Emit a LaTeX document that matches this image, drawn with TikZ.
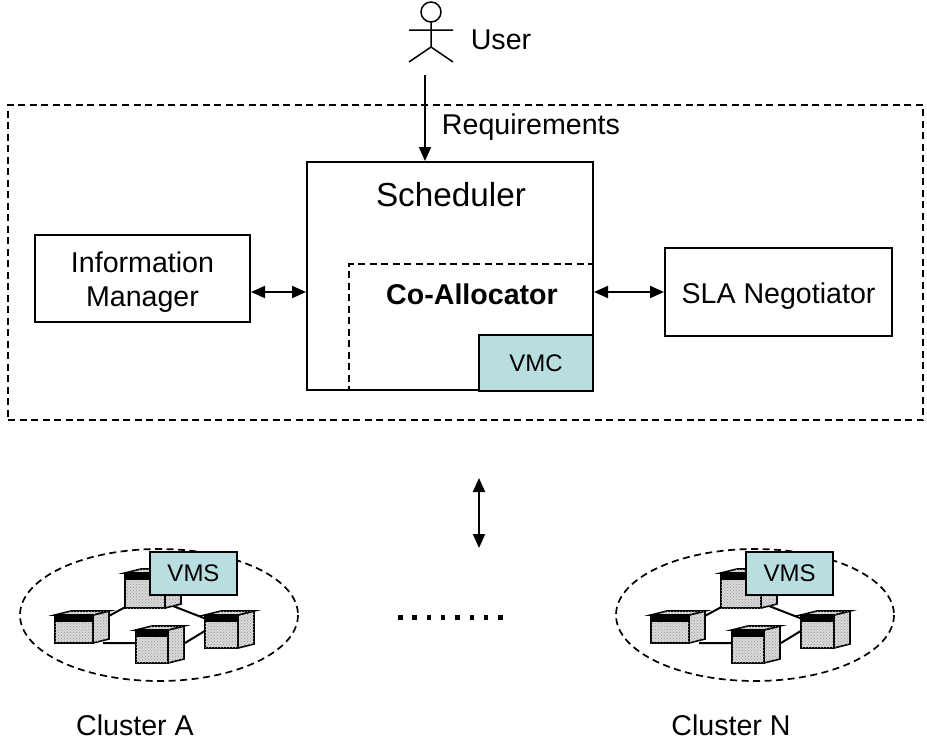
\documentclass[tikz,border=0pt]{standalone}
\usepackage{fontspec}
\setmainfont{Liberation Sans}
\usetikzlibrary{arrows.meta,patterns}

\definecolor{vmteal}{RGB}{184,222,224}
\newcommand{\labelfont}{\fontsize{28.6}{34}\selectfont}
\newcommand{\titlefont}{\fontsize{33.3}{40}\selectfont}
\newcommand{\vmfont}{\fontsize{24}{29}\selectfont}

\begin{document}
\begin{tikzpicture}[x=1pt,y=-1pt,>={Triangle[length=14pt,width=12pt]},
  box/.style={draw,line width=2pt,inner sep=0pt,align=center,font=\labelfont},
  vmbox/.style={box,fill=vmteal,font=\vmfont},
  boxtext/.style={label={[font=\labelfont,align=center,yshift=-4pt]center:#1}},
  link/.style={line width=2pt},
  dashbox/.style={draw,line width=1.7pt,dash pattern=on 7pt off 4.5pt},
  rack/.style={draw,line width=1.6pt,fill=gray!30,
    postaction={pattern=crosshatch dots,pattern color=gray!80}},
  % one server (front width #1, height #2): side, top, front and its dark panel
  pics/server/.style 2 args={code={
    \path[rack] (#1,0) -- (#1+16,-4) -- (#1+16,#2-4) -- (#1,#2) -- cycle;
    \path[rack] (0,0) -- (16,-4) -- (#1+16,-4) -- (#1,0) -- cycle;
    \path[rack] (0,0) rectangle (#1,#2);
    \fill (0,0) rectangle (#1,7);
  }},
  % a cluster of four servers with its VM service
  pics/cluster/.style={code={
    \draw[dashbox] (0,0) ellipse [x radius=139,y radius=66];
    \draw[link] (-52,2) -- (-30,-10)
                (14,-9) -- (50,5)
                (-56,28) -- (-21,28)
                (26,28) -- (49,14);
    \pic at (-34,-42) {server={40}{35}};
    \pic at (-104,0) {server={38}{28}};
    \pic at (-23,15) {server={32}{33}};
    \pic at (46,0) {server={33}{33}};
    \node[vmbox,minimum width=87pt,minimum height=43pt] (-vms) at (34.5,-41.5) {VMS};
    \node[font=\labelfont] (-name) at (-24,110) {#1};
  }}]
  \useasboundingbox (0,0) rectangle (927,742);

  % user on top
  \draw[line width=1.5pt] (431,12) circle [radius=10]
    (431,22) -- (431,47) (409,30) -- (453,30)
    (409,62) -- (431,47) -- (453,62);
  \node[font=\labelfont] (user) at (501,40) {User};
  \coordinate (userfoot) at (425,75);

  % broker
  \node[dashbox,minimum width=915pt,minimum height=315pt] (broker) at (465.5,262.5) {};
  \node[font=\labelfont] (req) at (531,127) {Requirements};

  \node[box,minimum width=215pt,minimum height=87pt,
    boxtext={Information\\Manager}] (info) at (142.5,278.5) {};
  \node[box,minimum width=286pt,minimum height=228pt] (sched) at (450,276) {};
  \node[font=\titlefont] (schedname) at (451,195) {Scheduler};
  \node[dashbox,minimum width=244pt,minimum height=126pt] (coalloc) at (471,327) {};
  \node[font=\labelfont\bfseries] (coname) at (472,294) {Co-Allocator};
  \node[vmbox,minimum width=114pt,minimum height=56pt] (vmc) at (536,363) {VMC};
  \node[box,minimum width=227pt,minimum height=88pt,
    boxtext={SLA Negotiator}] (sla) at (778.5,292) {};

  \draw[link,->] (userfoot) -- (userfoot |- sched.north);
  \draw[link,<->] (info.east |- sla.west) -- (sched.west |- sla.west);
  \draw[link,<->] (sched.east |- sla.west) -- (sla.west);

  % resources
  \coordinate (up) at (479,478);
  \coordinate (down) at (479,548);
  \draw[link,<->] (up) -- (down);

  \pic (clA) at (159,615) {cluster={Cluster A}};
  \pic (clN) at (755,615) {cluster={Cluster N}};

  \foreach \i in {0,...,7}
    \fill (398+\i*14.3,615) rectangle ++(4.5,4.5);
\end{tikzpicture}
\end{document}
